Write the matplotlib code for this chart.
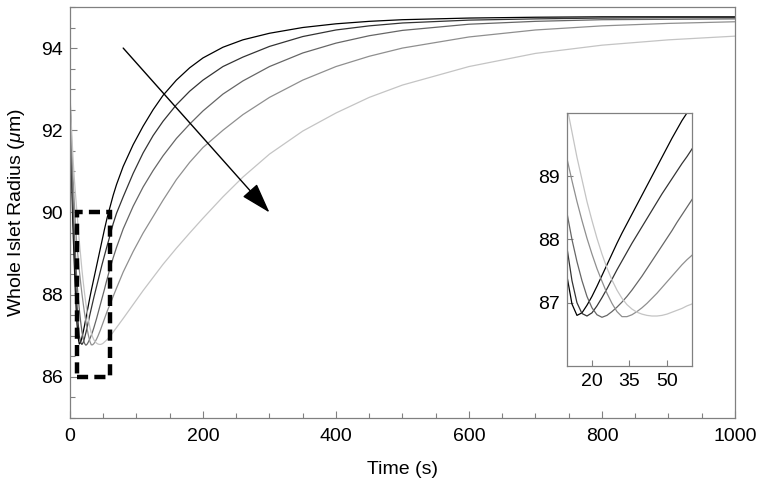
import matplotlib
matplotlib.use('Agg')
import matplotlib.pyplot as plt
from matplotlib.patches import Rectangle
from matplotlib.ticker import MultipleLocator, FixedLocator

plt.rcParams['font.family'] = ['Liberation Sans', 'DejaVu Sans']
plt.rcParams['mathtext.fontset'] = 'custom'
plt.rcParams['mathtext.it'] = 'Liberation Sans:italic'
plt.rcParams['mathtext.rm'] = 'Liberation Sans'

# ---- data ----
time_s = [0, 1, 2, 3, 4, 5, 6,
          8, 10, 12, 14, 16, 18, 20, 22, 24, 26, 28, 30, 32, 34, 36, 38, 40,
          42, 44, 46, 48, 50, 52, 54, 56, 58, 60,
          65, 70, 80, 95, 110, 125, 140, 160, 180, 200, 230, 260, 300, 350,
          400, 450, 500, 600, 700, 800, 900, 1000]

radius_1 = [92.90, 92.0, 91.2, 90.5, 89.9, 89.4, 88.95,
            88.1, 87.42, 86.98, 86.80, 86.84, 86.96, 87.1, 87.26, 87.43, 87.6, 87.77, 87.94, 88.1, 88.25, 88.4, 88.55, 88.7,
            88.85, 89.0, 89.15, 89.3, 89.45, 89.6, 89.74, 89.88, 90.0, 90.12,
            90.42, 90.68, 91.12, 91.65, 92.1, 92.5, 92.85, 93.22, 93.52, 93.76, 94.02, 94.2, 94.36, 94.5,
            94.59, 94.65, 94.69, 94.73, 94.75, 94.76, 94.76, 94.76]

radius_2 = [92.90, 92.1, 91.4, 90.8, 90.25, 89.75, 89.3,
            88.55, 87.87, 87.35, 87.0, 86.83, 86.79, 86.84, 86.95, 87.08, 87.22, 87.37, 87.52, 87.66, 87.8, 87.94, 88.07, 88.2,
            88.33, 88.46, 88.59, 88.72, 88.84, 88.96, 89.08, 89.2, 89.31, 89.43,
            89.73, 89.98, 90.38, 90.95, 91.45, 91.87, 92.22, 92.62, 92.95, 93.22, 93.55, 93.78, 94.04, 94.28,
            94.44, 94.54, 94.61, 94.68, 94.71, 94.73, 94.74, 94.74]

radius_3 = [92.90, 92.25, 91.65, 91.1, 90.6, 90.15, 89.75,
            89.05, 88.42, 88.0, 87.65, 87.35, 87.1, 86.92, 86.81, 86.77, 86.8, 86.86, 86.93, 87.01, 87.1, 87.2, 87.31, 87.42,
            87.54, 87.66, 87.78, 87.9, 88.02, 88.14, 88.27, 88.39, 88.51, 88.63,
            88.9, 89.15, 89.6, 90.15, 90.62, 91.02, 91.38, 91.8, 92.15, 92.47, 92.88, 93.2, 93.55, 93.88,
            94.12, 94.3, 94.43, 94.58, 94.65, 94.69, 94.7, 94.71]

radius_4 = [92.90, 92.4, 91.95, 91.5, 91.1, 90.72, 90.38,
            89.8, 89.28, 88.93, 88.6, 88.3, 88.02, 87.77, 87.54, 87.34, 87.15, 86.99, 86.86, 86.78, 86.78, 86.81, 86.86, 86.92,
            86.99, 87.07, 87.15, 87.24, 87.33, 87.42, 87.51, 87.6, 87.68, 87.75,
            87.96, 88.16, 88.55, 89.05, 89.5, 89.9, 90.3, 90.8, 91.22, 91.58, 92.0, 92.38, 92.8, 93.22,
            93.55, 93.8, 94.0, 94.27, 94.44, 94.54, 94.6, 94.64]

radius_5 = [92.90, 92.5, 92.15, 91.8, 91.5, 91.2, 90.95,
            90.5, 90.1, 89.7, 89.3, 88.95, 88.6, 88.3, 88.02, 87.77, 87.55, 87.36, 87.2, 87.07, 86.97, 86.9, 86.85, 86.82,
            86.8, 86.79, 86.79, 86.8, 86.82, 86.85, 86.88, 86.91, 86.95, 86.98,
            87.09, 87.2, 87.42, 87.76, 88.1, 88.42, 88.74, 89.13, 89.5, 89.86, 90.38, 90.86, 91.42, 91.98,
            92.42, 92.8, 93.1, 93.55, 93.87, 94.07, 94.2, 94.29]

series = [radius_1, radius_2, radius_3, radius_4, radius_5]
line_colors = ['#000000', '#333333', '#666666', '#8f8f8f', '#c4c4c4']

main_yticks = [86, 88, 90, 92, 94]
inset_xticks = [20, 35, 50]
inset_yticks = [87, 88, 89]

spine_col = '#808080'
fs = 14

fig = plt.figure(figsize=(7.64, 4.90), dpi=100)
ax = fig.add_axes([0.0916, 0.147, 0.8704, 0.8388])
for y, c in zip(series, line_colors):
    ax.plot(time_s, y, color=c, lw=0.9, solid_joinstyle='round')

ax.set_xlim(0, 1000)
ax.set_ylim(85, 95)
ax.xaxis.set_major_locator(MultipleLocator(200))
ax.xaxis.set_minor_locator(MultipleLocator(50))
ax.yaxis.set_major_locator(FixedLocator(main_yticks))
ax.yaxis.set_minor_locator(MultipleLocator(0.5))
ax.tick_params(which='both', direction='in', color=spine_col, labelsize=fs, width=0.8)
ax.tick_params(which='major', length=5)
ax.tick_params(which='minor', length=3.5)
ax.tick_params(axis='x', pad=7)
ax.tick_params(axis='y', pad=5)
for s in ax.spines.values():
    s.set_color(spine_col)
    s.set_linewidth(0.9)
ax.set_xlabel('Time (s)', fontsize=fs, labelpad=12)
ax.set_ylabel(r'Whole Islet Radius ($\mu$m)', fontsize=fs, labelpad=10)

rect = Rectangle((10, 86), 50, 4, fill=False, ec='black', lw=3.2,
                 linestyle=(0, (2.5, 1.4)), zorder=5)
ax.add_patch(rect)

ax.annotate('', xy=(300, 90), xytext=(80, 94),
            arrowprops=dict(arrowstyle='-|>,head_length=1.9,head_width=0.6',
                            mutation_scale=10, color='black', lw=1.0,
                            shrinkA=0, shrinkB=0))

ins = fig.add_axes([0.7421, 0.2531, 0.1636, 0.5163])
for y, c in zip(series, line_colors):
    ins.plot(time_s, y, color=c, lw=0.9, solid_joinstyle='round')
ins.set_xlim(10, 60)
ins.set_ylim(86, 90)
ins.set_xticks(inset_xticks)
ins.set_yticks(inset_yticks)
ins.tick_params(which='both', direction='in', color=spine_col, labelsize=fs,
                length=4, width=0.8)
ins.tick_params(axis='x', pad=5)
ins.tick_params(axis='y', pad=5)
for s in ins.spines.values():
    s.set_color(spine_col)
    s.set_linewidth(0.9)

fig.savefig('out.png', dpi=100)
